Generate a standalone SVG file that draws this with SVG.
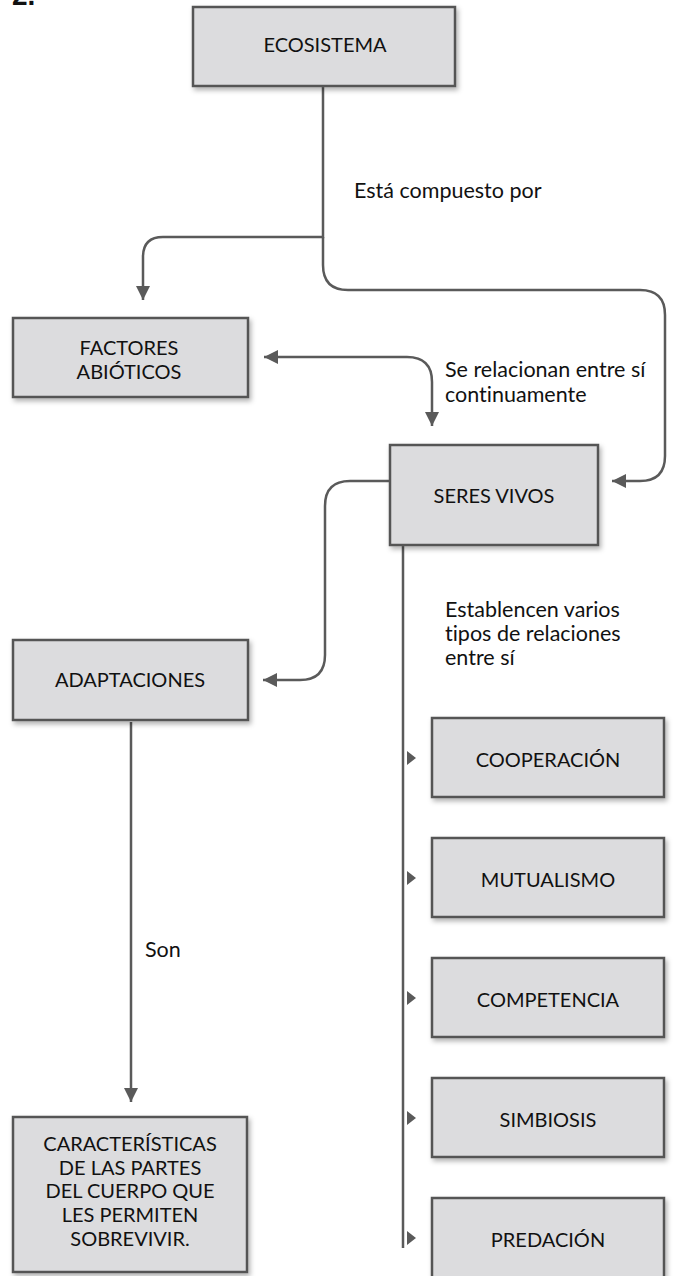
<svg xmlns="http://www.w3.org/2000/svg" width="676" height="1276" viewBox="0 0 676 1276">
<style>
text{font-variant-ligatures:none}
.box{fill:#dcdcde;stroke:#555;stroke-width:2.5;filter:url(#sh)}
.t{font-family:Lato,"Open Sans",sans-serif;font-size:20px;fill:#111;text-anchor:middle}
.l{font-family:Lato,"Open Sans",sans-serif;font-size:21.5px;fill:#111}
.c{fill:none;stroke:#5a5a5a;stroke-width:2.5}
.ah{fill:#5a5a5a}
</style>
<defs>
<filter id="sh" x="-10%" y="-10%" width="125%" height="130%">
<feDropShadow dx="2" dy="3" stdDeviation="2.5" flood-color="#000" flood-opacity="0.3"/>
</filter>
<marker id="arr" markerUnits="userSpaceOnUse" markerWidth="16" markerHeight="16" viewBox="0 0 16 16" refX="14" refY="8" orient="auto">
<path d="M0,1 L14,8 L0,15 Z" fill="#5a5a5a"/>
</marker>
<marker id="arrs" markerUnits="userSpaceOnUse" markerWidth="16" markerHeight="16" viewBox="0 0 16 16" refX="14" refY="8" orient="auto-start-reverse">
<path d="M0,1 L14,8 L0,15 Z" fill="#5a5a5a"/>
</marker>
</defs>
<text x="12" y="5" font-family="Liberation Sans,sans-serif" font-weight="bold" font-size="28" fill="#111">2.</text>
<g id="connectors">
<path class="c" d="M323,86 V237 H163 Q143,237 143,257 V300" marker-end="url(#arr)"/>
<path class="c" d="M323,237 V265 Q323,290 348,290 H640 Q665,290 665,315 V456 Q665,481 640,481 H612" marker-end="url(#arr)"/>
<path class="c" d="M264,357 H407 Q432,357 432,382 V426" marker-start="url(#arrs)" marker-end="url(#arr)"/>
<path class="c" d="M390,481 H350 Q325,481 325,506 V655 Q325,680 300,680 H263" marker-end="url(#arr)"/>
<path class="c" d="M131,722 V1102" marker-end="url(#arr)"/>
<path class="c" d="M403,545 V1248"/>
<path class="ah" d="M407,751 L416,758 L407,765 Z"/>
<path class="ah" d="M407,871 L416,878 L407,885 Z"/>
<path class="ah" d="M407,991 L416,998 L407,1005 Z"/>
<path class="ah" d="M407,1111 L416,1118 L407,1125 Z"/>
<path class="ah" d="M407,1231 L416,1238 L407,1245 Z"/>
<text class="l" x="354" y="198">Está compuesto por</text>
<text class="l" x="445" y="377">Se relacionan entre sí</text>
<text class="l" x="445" y="402">continuamente</text>
<text class="l" x="445" y="617">Establencen varios</text>
<text class="l" x="445" y="641">tipos de relaciones</text>
<text class="l" x="445" y="665">entre sí</text>
<text class="l" x="145" y="957">Son</text>
</g>
<g id="ecosistema"><rect class="box" x="193" y="7" width="262" height="79"/><text class="t" x="325" y="52">ECOSISTEMA</text></g>
<g id="factores"><rect class="box" x="13" y="318" width="235" height="79"/><text class="t" x="129" y="355">FACTORES</text><text class="t" x="129" y="379">ABIÓTICOS</text></g>
<g id="seres"><rect class="box" x="390" y="445" width="208" height="100"/><text class="t" x="494" y="503">SERES VIVOS</text></g>
<g id="adaptaciones"><rect class="box" x="13" y="640" width="235" height="80"/><text class="t" x="130" y="687">ADAPTACIONES</text></g>
<g id="caracteristicas"><rect class="box" x="13" y="1117" width="234" height="155"/>
<text class="t" x="130" y="1151">CARACTERÍSTICAS</text>
<text class="t" x="130" y="1175">DE LAS PARTES</text>
<text class="t" x="130" y="1198">DEL CUERPO QUE</text>
<text class="t" x="130" y="1222">LES PERMITEN</text>
<text class="t" x="130" y="1246">SOBREVIVIR.</text></g>
<g id="cooperacion"><rect class="box" x="432" y="718" width="232" height="79"/><text class="t" x="548" y="767">COOPERACIÓN</text></g>
<g id="mutualismo"><rect class="box" x="432" y="838" width="232" height="79"/><text class="t" x="548" y="887">MUTUALISMO</text></g>
<g id="competencia"><rect class="box" x="432" y="958" width="232" height="79"/><text class="t" x="548" y="1007">COMPETENCIA</text></g>
<g id="simbiosis"><rect class="box" x="432" y="1078" width="232" height="79"/><text class="t" x="548" y="1127">SIMBIOSIS</text></g>
<g id="predacion"><rect class="box" x="432" y="1198" width="232" height="80"/><text class="t" x="548" y="1247">PREDACIÓN</text></g>
</svg>
